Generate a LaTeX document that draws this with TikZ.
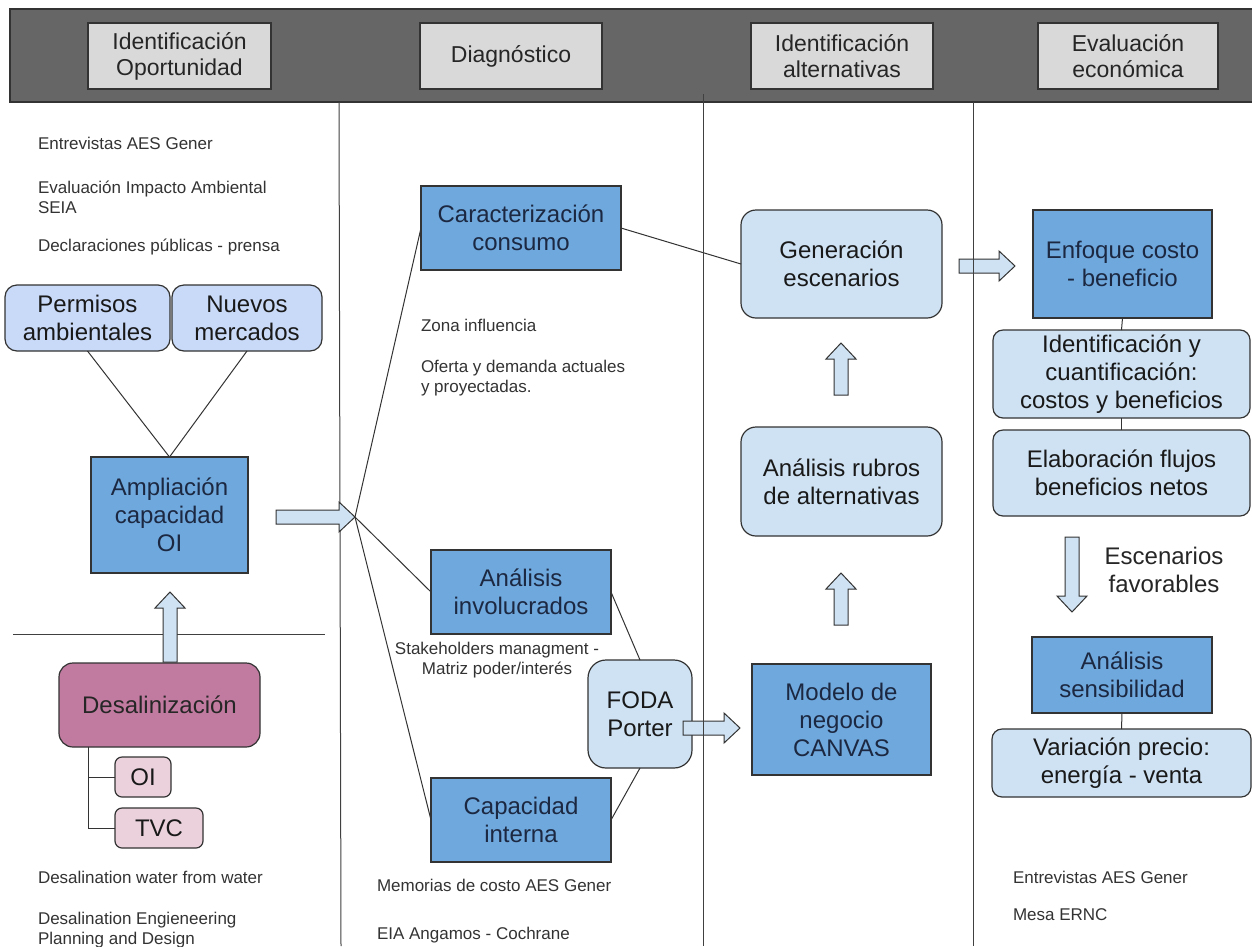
\documentclass[tikz,border=0pt]{standalone}
\usepackage{fontspec}
\setmainfont{Liberation Sans}
\usetikzlibrary{calc}
\definecolor{bandgray}{HTML}{666666}
\definecolor{hdrgray}{HTML}{D9D9D9}
\definecolor{dblue}{HTML}{6FA8DC}
\definecolor{lblue}{HTML}{CFE2F3}
\definecolor{pblue}{HTML}{C9DAF8}
\definecolor{mauve}{HTML}{C27BA0}
\definecolor{lpink}{HTML}{EAD1DC}
\definecolor{txtgray}{HTML}{333333}
\definecolor{navy}{HTML}{1C2841}
\definecolor{edge}{HTML}{333333}
\tikzset{
  every node/.style={inner sep=0pt, outer sep=0pt},
  hdr/.style={draw=edge, fill=hdrgray, line width=1.2pt, align=center, font=\fontsize{23}{26}\selectfont, text=black!85},
  big/.style={font=\fontsize{24}{28}\selectfont, align=center},
  dbox/.style={big, draw=edge, fill=dblue, line width=1.2pt, text=navy},
  lbox/.style={big, draw=edge, fill=lblue, line width=1.2pt, rounded corners=14pt, text=black!90},
  pbox/.style={lbox, fill=pblue, rounded corners=12pt},
  mbox/.style={big, draw=edge, fill=mauve, rounded corners=14pt, line width=1.2pt, text=black!85},
  kbox/.style={big, draw=edge, fill=lpink, rounded corners=7pt, line width=1.2pt, text=black!90},
  note/.style={font=\fontsize{17}{20}\selectfont, text=txtgray, align=left, anchor=west},
  link/.style={draw=black!80, line width=1pt},
  sepline/.style={draw=black!75, line width=1pt},
  barrowline/.style={draw=black!80, fill=lblue, line width=1pt, line join=miter},
  pics/barrow/.style={code={\path[barrowline] (0,-7) -- (#1-16,-7) -- (#1-16,-15) -- (#1,0) -- (#1-16,15) -- (#1-16,7) -- (0,7) -- cycle;}}
}
\begin{document}
\begin{tikzpicture}[x=1pt,y=-1pt]
\clip (0,0) rectangle (1252,946);
\fill[white] (0,0) rectangle (1252,946);

% header band
\path[fill=bandgray, draw=black!80, line width=1.2pt] (10,9) rectangle (1262,102);
\node[hdr, minimum width=183pt, minimum height=66pt] (h1) at (179.5,56) {Identificación\\Oportunidad};
\node[hdr, minimum width=182pt, minimum height=66pt] (h2) at (511,56) {Diagnóstico};
\node[hdr, minimum width=182pt, minimum height=66pt] (h3) at (842,56) {Identificación\\alternativas};
\node[hdr, minimum width=180pt, minimum height=66pt] (h4) at (1128,56) {Evaluación\\económica};

% separators
\path[sepline] (339,102) -- (341,946);
\path[sepline] (13,634) -- (325,634);

% left column
\node[note] (n1) at (38,143) {Entrevistas AES Gener};
\node[note] (n2) at (38,197) {Evaluación Impacto Ambiental\\SEIA};
\node[note] (n3) at (38,247) {Declaraciones públicas - prensa};
\node[pbox, minimum width=165pt, minimum height=66pt] (perm) at (87.5,318) {Permisos\\ambientales};
\node[pbox, minimum width=150pt, minimum height=66pt] (nuev) at (247,318) {Nuevos\\mercados};
\node[dbox, minimum width=157pt, minimum height=116pt] (amp) at (169.5,515) {Ampliación\\capacidad\\OI};
\path[link] (perm.south) -- (amp.north);
\path[link] (nuev.south) -- (amp.north);
\node[mbox, minimum width=201pt, minimum height=84pt] (desal) at (159.5,705) {Desalinización};
\node[kbox, minimum width=56pt, minimum height=40pt] (oi) at (143,777) {OI};
\node[kbox, minimum width=88pt, minimum height=40pt] (tvc) at (159,828) {TVC};
\coordinate (dbr) at (88,747);
\path[link] (dbr) |- (oi.west);
\path[link] (dbr) |- (tvc.west);
\node[note] (n4) at (38,877) {Desalination water from water};
\node[note] (n5) at (38,930) {Desalination Engieneering\\Planning and Design};

% middle column
\coordinate (conv) at (355,517);
\node[dbox, minimum width=200pt, minimum height=84pt] (car) at (521,228) {Caracterización\\consumo};
\node[note] (n6) at (421,325) {Zona influencia};
\node[note] (n7) at (421,378) {Oferta y demanda actuales\\y proyectadas.};
\node[dbox, minimum width=180pt, minimum height=84pt] (inv) at (521,592) {Análisis\\involucrados};
\node[font=\fontsize{17}{20}\selectfont, text=txtgray, align=center] (n8) at (497,660) {Stakeholders managment -\\Matriz poder/interés};
\node[dbox, minimum width=180pt, minimum height=84pt] (capint) at (521,820) {Capacidad\\interna};
\node[lbox, rounded corners=18pt, minimum width=104pt, minimum height=108pt] (foda) at (640,714) {FODA\\Porter};
\node[note] (n9) at (377,885) {Memorias de costo AES Gener};
\node[note] (n10) at (377,935) {EIA Angamos - Cochrane};
\path[link] (conv) -- (car.west);
\path[link] (conv) -- (inv.west);
\path[link] (conv) -- (capint.west);
\path[link] (inv.east) -- (foda.north);
\path[link] (capint.east) -- (foda.south);

% third column
\node[lbox, rounded corners=15pt, minimum width=201pt, minimum height=108pt] (gen) at (841.5,264) {Generación\\escenarios};
\node[lbox, rounded corners=15pt, minimum width=201pt, minimum height=109pt] (rub) at (841.5,481.5) {Análisis rubros\\de alternativas};
\node[dbox, minimum width=179pt, minimum height=111pt] (canvas) at (841.5,719.5) {Modelo de\\negocio\\CANVAS};
\path[link] (car.east) -- (gen.west);

% right column
\node[dbox, minimum width=179pt, minimum height=108pt] (enf) at (1122.5,264) {Enfoque costo\\- beneficio};
\node[lbox, rounded corners=10pt, minimum width=257pt, minimum height=88pt] (idc) at (1121.5,374) {Identificación y\\cuantificación:\\costos y beneficios};
\node[lbox, rounded corners=10pt, minimum width=257pt, minimum height=86pt] (elab) at (1121.5,473) {Elaboración flujos\\beneficios netos};
\node[big, text=black!85] (esc) at (1164,570) {Escenarios\\favorables};
\node[dbox, minimum width=180pt, minimum height=76pt] (sens) at (1122,675) {Análisis\\sensibilidad};
\node[lbox, rounded corners=10pt, minimum width=259pt, minimum height=68pt] (var) at (1121.5,763) {Variación precio:\\energía - venta};
\path[link] (enf.south) -- (idc.north);
\path[link] (idc.south) -- (elab.north);
\path[link] (sens.south) -- (var.north);
\node[note] (n11) at (1013,877) {Entrevistas AES Gener};
\node[note] (n12) at (1013,915) {Mesa ERNC};

% block arrows
\pic at (276,517) {barrow=79};
\pic[rotate=90] at (170,662) {barrow=70};
\pic at (959,266) {barrow=56};
\pic[rotate=90] at (841,395) {barrow=52};
\pic[rotate=90] at (841,625) {barrow=52};
\pic at (683,728) {barrow=57};
\pic[rotate=-90] at (1072,537) {barrow=75};

% separators drawn over arrows
\path[sepline] (703,94) -- (703,946);
\path[sepline] (973,102) -- (973,946);
\end{tikzpicture}
\end{document}
